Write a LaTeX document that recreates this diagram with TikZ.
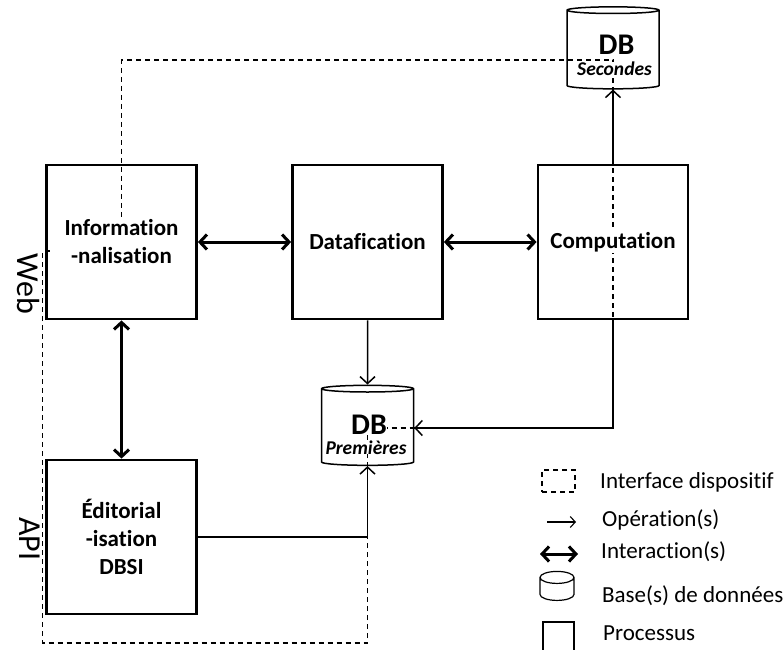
\documentclass[tikz,border=0pt]{standalone}
\usepackage{fontspec}
\setmainfont{Carlito}[Ligatures=NoCommon]
\usepackage{tikz}
\usetikzlibrary{arrows.meta}
\usetikzlibrary{shapes.geometric}

\begin{document}
\begin{tikzpicture}[x=1pt, y=-1pt, >={Straight Barb[length=7pt,width=15pt]},
    main/.style = {draw, line width=2.8pt, minimum width=150pt, minimum height=154pt},
    lbl/.style = {fill=white, inner sep=1pt, align=center, font=\fontsize{23}{28}\selectfont\bfseries},
    base/.style = {draw, line width=1.5pt, cylinder, shape border rotate=90, aspect=1, minimum width=92pt, minimum height=82pt},
    op/.style = {->, line width=1.5pt},
    inter/.style = {<->, line width=3pt},
    iface/.style = {line width=1.3pt, dash pattern=on 5pt off 4pt},
    side/.style = {rotate=-90, font=\fontsize{32}{32}\selectfont},
    leg/.style = {anchor=base west, inner sep=0pt, font=\fontsize{23}{23}\selectfont}]
    \useasboundingbox (0,0) rectangle (784,650);
    % Nodes
    \node[main] (1) at (121.5, 242) {};
    \node[main] (2) at (367.5, 242) {};
    \node[main] (3) at (613, 242) {};
    \node[main] (4) at (121.5, 537) {};
    \node[base] (5) at (613, 50.5) {};
    \node[base, minimum height=80pt] (6) at (367.5, 428) {};

    % Interface (dashed)
    \draw[iface] (121.5,251) -- (42.5,251) -- (42.5,643) -- (367.5,643) -- (6.center)
        -- (6.center -| 3.center) -- (613,60) -- (121.5,60) -- cycle;

    % Labels
    \node[lbl, inner xsep=14pt] (1t) at (1) {Information\\-nalisation};
    \node[lbl] (2t) at (2) {Datafication};
    \node[lbl] (3t) at (3) {Computation};
    \node[lbl] (4t) at (4) {Éditorial\\-isation\\DBSI};
    \node[lbl, anchor=base, inner sep=0pt, font=\fontsize{30}{30}\selectfont\bfseries] (5a) at (616.5, 55) {DB};
    \node[lbl, anchor=base, inner sep=0pt, font=\fontsize{19.5}{19.5}\selectfont\bfseries\itshape] (5b) at (614.5, 76) {Secondes};
    \node[lbl, anchor=base, inner sep=0pt, font=\fontsize{30}{30}\selectfont\bfseries] (6a) at (369, 434) {DB};
    \node[lbl, anchor=base, inner sep=0pt, font=\fontsize{19.5}{19.5}\selectfont\bfseries\itshape] (6b) at (366, 454) {Premières};
    \node[side] (web) at (28.5, 284) {Web};
    \node[side] (api) at (30, 539) {API};

    % Edges
    \draw[inter] (1) -- (2);
    \draw[inter] (2) -- (3);
    \draw[inter] (1) -- (4);
    \draw[op] (3) -- (5);
    \draw[op] (2) -- (6);
    \draw[op] (3.south) |- (6.east);
    \draw[op] (4.east) -| (6.south);

    % Legend
    \node[draw, iface, minimum width=33pt, minimum height=22pt, inner sep=0pt] (l1) at (558.5,481) {};
    \coordinate (l2a) at (547,522);
    \coordinate (l2b) at (576,522);
    \draw[-{Straight Barb[length=5pt,width=11pt]}, line width=1.1pt] (l2a) -- (l2b);
    \coordinate (l3a) at (540,554);
    \coordinate (l3b) at (578,554);
    \draw[inter] (l3a) -- (l3b);
    \node[base, line width=1.2pt, aspect=1.8, minimum width=34pt, minimum height=29pt] (l4) at (557,591) {};
    \node[draw, line width=1.2pt, minimum size=31pt] (l5) at (558.5,637.5) {};
    \node[leg] (l1t) at (600,488) {Interface dispositif};
    \node[leg] (l2t) at (602,526) {Opération(s)};
    \node[leg] (l3t) at (601,558) {Interaction(s)};
    \node[leg] (l4t) at (602,602) {Base(s) de données};
    \node[leg] (l5t) at (603,640) {Processus};
\end{tikzpicture}
\end{document}
